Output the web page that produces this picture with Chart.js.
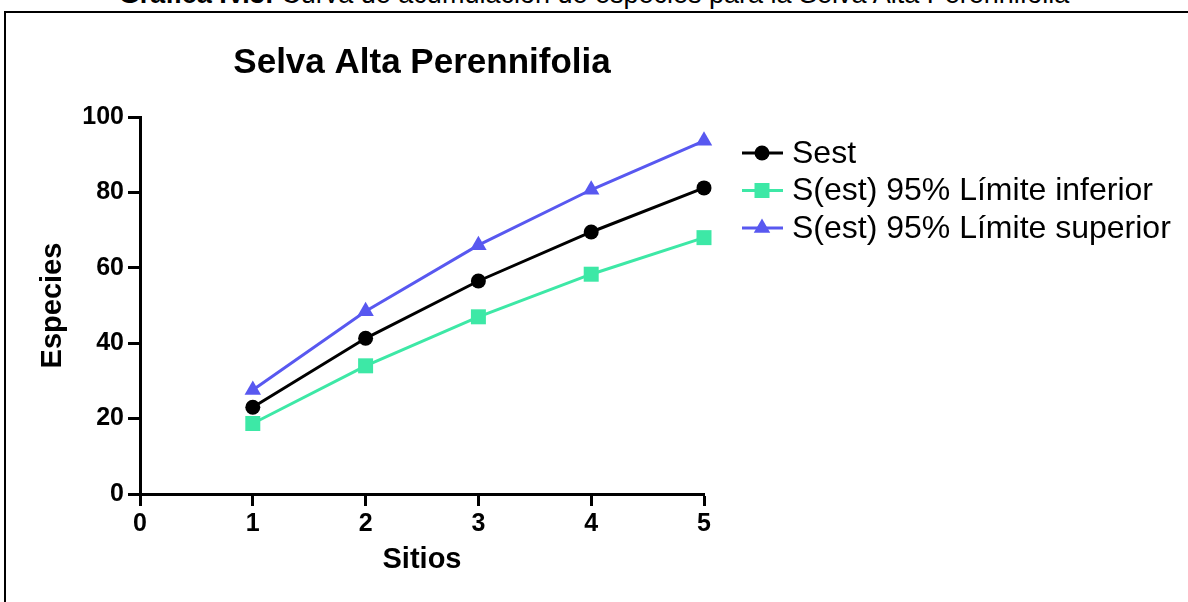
<!DOCTYPE html>
<html>
<head>
<meta charset="utf-8">
<script src="https://cdn.jsdelivr.net/npm/chart.js@4/dist/chart.umd.min.js"></script>
<style>
  html, body { margin: 0; padding: 0; background: #fff; overflow: hidden; }
  body { width: 1188px; height: 602px; position: relative; font-family: Arial, "Liberation Sans", sans-serif; }
  #caption { position: absolute; top: -19px; left: 0; width: 1188px; text-align: center;
             font-size: 27px; line-height: 27px; white-space: nowrap; color: #000; }
  #frame { position: absolute; left: 4px; top: 11px; width: 1200px; height: 620px;
           border-left: 2px solid #000; border-top: 2px solid #000; }
  #chart { position: absolute; left: 0; top: 0; }
</style>
</head>
<body>
<div id="caption"><b>Gráfica IV.3:</b> Curva de acumulación de especies para la Selva Alta Perennifolia</div>
<div id="frame"></div>
<canvas id="chart" width="1188" height="602"></canvas>
<script>
const chartTitle = 'Selva Alta Perennifolia';
const sitios = [1, 2, 3, 4, 5];
const sest = [23, 41.3, 56.5, 69.5, 81.2];
const limInferior = [18.7, 34, 47, 58.3, 68];
const limSuperior = [27.6, 48.5, 66, 80.7, 93.7];
const seriesNames = ['Sest', 'S(est) 95% Límite inferior', 'S(est) 95% Límite superior'];
const seriesColors = ['#000000', '#3DE8A6', '#5858F0'];
const xTicks = [0, 1, 2, 3, 4, 5];
const yTicks = [0, 20, 40, 60, 80, 100];

const font = 'Arial, "Liberation Sans", sans-serif';

const toPoints = vals => vals.map((v, i) => ({x: sitios[i], y: v}));

// marker used both on the chart and in the legend
const drawMarker = (ctx, style, x, y, color) => {
    ctx.save();
    ctx.fillStyle = color;
    ctx.beginPath();
    if (style === 'circle') {
        ctx.arc(x, y, 7.5, 0, Math.PI * 2);
    } else if (style === 'rect') {
        ctx.rect(x - 7.5, y - 7.5, 15, 15);
    } else {
        const r = 9.5;
        ctx.moveTo(x, y - r);
        ctx.lineTo(x + r * Math.sin(Math.PI * 2 / 3), y - r * Math.cos(Math.PI * 2 / 3));
        ctx.lineTo(x + r * Math.sin(Math.PI * 4 / 3), y - r * Math.cos(Math.PI * 4 / 3));
        ctx.closePath();
    }
    ctx.fill();
    ctx.restore();
};

const titleAndLegend = {
    id: 'titleAndLegend',
    afterDraw(chart) {
        const {ctx, chartArea} = chart;
        ctx.save();
        ctx.fillStyle = '#000';
        ctx.font = `bold 35px ${font}`;
        ctx.textAlign = 'center';
        ctx.textBaseline = 'alphabetic';
        ctx.fillText(chartTitle, (chartArea.left + chartArea.right) / 2, 73);

        ctx.font = `32px ${font}`;
        ctx.textAlign = 'left';
        ctx.textBaseline = 'middle';
        chart.data.datasets.forEach((ds, i) => {
            const y = 153 + i * 37.5;
            ctx.strokeStyle = ds.borderColor;
            ctx.lineWidth = 3;
            ctx.beginPath();
            ctx.moveTo(742, y);
            ctx.lineTo(783, y);
            ctx.stroke();
            drawMarker(ctx, ds.pointStyle, 762, y, ds.borderColor);
            ctx.fillStyle = '#000';
            ctx.fillText(ds.label, 792, y + 1);
        });
        ctx.restore();
    }
};

const makeDataset = (idx, vals, style, radius) => ({
    label: seriesNames[idx],
    data: toPoints(vals),
    borderColor: seriesColors[idx],
    backgroundColor: seriesColors[idx],
    borderWidth: 3,
    pointStyle: style,
    pointRadius: radius,
    pointBorderWidth: 0,
    clip: false,
    tension: 0
});

const axisCommon = {
    border: {display: true, color: '#000', width: 3},
    grid: {display: true, drawOnChartArea: false, drawTicks: true, tickLength: 12, tickWidth: 3, tickColor: '#000', color: '#000'},
};

new Chart(document.getElementById('chart'), {
    type: 'line',
    data: {
        datasets: [
            makeDataset(0, sest, 'circle', 7.5),
            makeDataset(1, limInferior, 'rect', 10.6),
            makeDataset(2, limSuperior, 'triangle', 9.5)
        ]
    },
    options: {
        responsive: false,
        animation: false,
        layout: {padding: {left: 36, top: 117, right: 484, bottom: 8}},
        plugins: {legend: {display: false}, title: {display: false}, tooltip: {enabled: false}},
        scales: {
            x: {
                ...axisCommon,
                type: 'linear',
                min: 0,
                max: 5,
                afterBuildTicks: s => { s.ticks = xTicks.map(v => ({value: v})); },
                afterFit: s => { s.height = 100; },
                ticks: {color: '#000', font: {family: font, size: 25, weight: 'bold'}, padding: 3, maxRotation: 0},
                title: {display: true, text: 'Sitios', color: '#000', font: {family: font, size: 29, weight: 'bold'}, padding: {top: 0, bottom: 17}}
            },
            y: {
                ...axisCommon,
                type: 'linear',
                min: 0,
                max: 100,
                afterBuildTicks: s => { s.ticks = yTicks.map(v => ({value: v})); },
                afterFit: s => { s.width = 104; },
                ticks: {color: '#000', font: {family: font, size: 25, weight: 'bold'}, padding: 4},
                title: {display: true, text: 'Especies', color: '#000', font: {family: font, size: 29, weight: 'bold'}, padding: {top: 0, bottom: 0}}
            }
        }
    },
    plugins: [titleAndLegend]
});
</script>
</body>
</html>
